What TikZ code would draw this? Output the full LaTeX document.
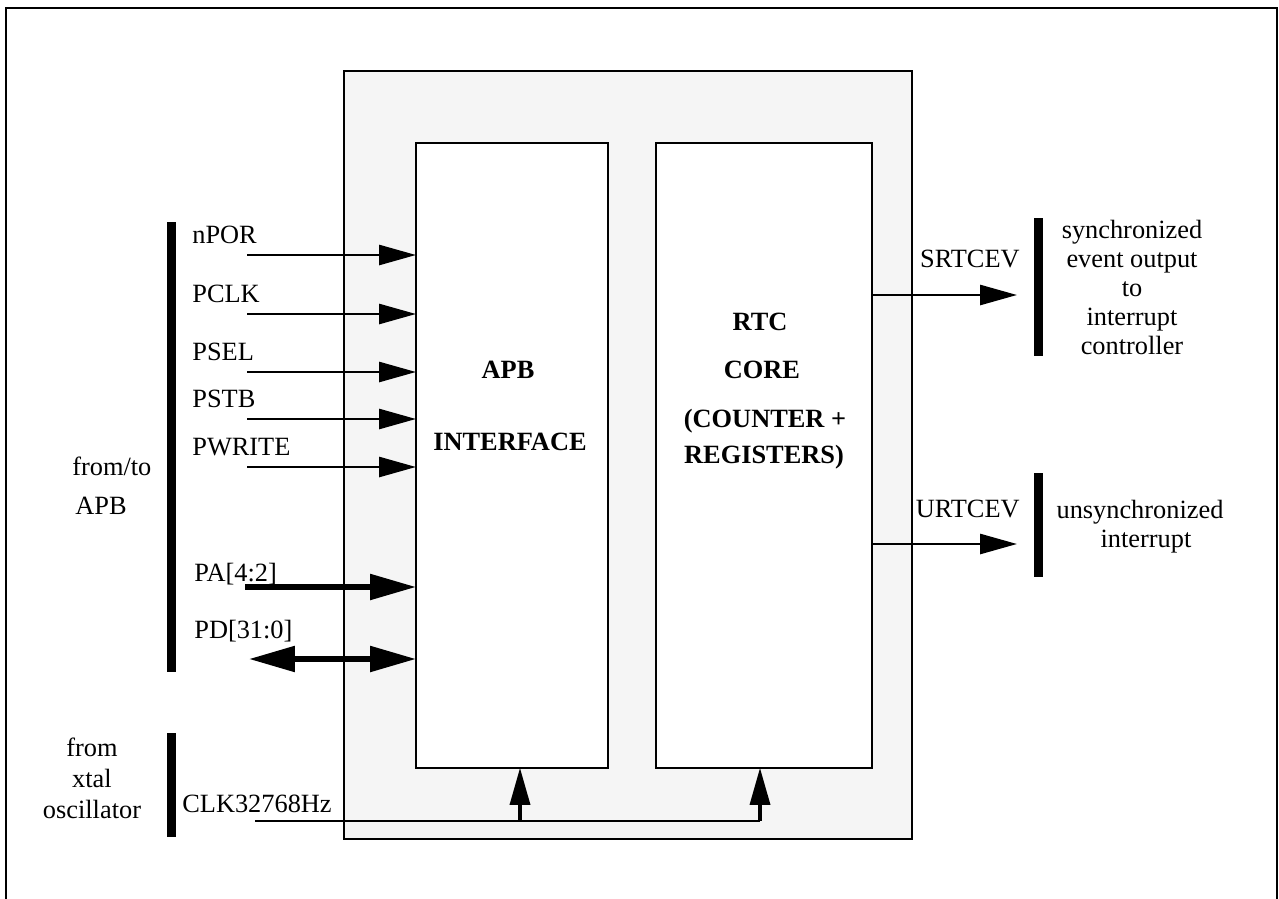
\documentclass[tikz,border=0pt]{standalone}
\usepackage{fontspec}
\setmainfont{Liberation Serif}
\usetikzlibrary{arrows.meta, positioning}

\begin{document}
\begin{tikzpicture}[x=0.02cm, y=-0.02cm,
    lbl/.style={inner sep=0pt, font=\fontsize{15}{18}\selectfont},
    title/.style={lbl, font=\fontsize{15}{18}\selectfont\bfseries},
    blk/.style={draw, line width=0.05cm, inner sep=0pt, outer sep=0pt, anchor=north west},
    sig/.style={line width=0.055cm, -{Triangle[length=0.74cm, width=0.4cm]}},
    bus/.style={line width=0.11cm, -{Triangle[length=0.92cm, width=0.5cm]}},
    bar/.style={line width=0.18cm}]
    \useasboundingbox (0,0) rectangle (1279,899);

    % Frame
    \draw[line width=0.05cm] (6,899) |- (1277,8) -- (1277,899);

    % RTC block and its two parts
    \node[blk, fill=black!4, minimum width=11.36cm, minimum height=15.36cm] (rtcblk) at (344,71) {};
    \node[blk, fill=white, minimum width=3.84cm, minimum height=12.5cm] (apb) at (416,143) {};
    \node[blk, fill=white, minimum width=4.32cm, minimum height=12.5cm] (rtc) at (656,143) {};

    \node[title, anchor=base] (apb1) at (508,378) {APB};
    \node[title, anchor=base] (apb2) at (510,450) {INTERFACE};
    \node[title, anchor=base] (rtc1) at (760,330) {RTC};
    \node[title, anchor=base] (rtc2) at (762,378) {CORE};
    \node[title, anchor=base] (rtc3) at (765,427) {(COUNTER +};
    \node[title, anchor=base] (rtc4) at (764,463) {REGISTERS)};

    % APB side
    \draw[bar] (171.5,222) -- (171.5,672);
    \node[lbl, anchor=base west] (fromto) at (72,475) {from/to};
    \node[lbl, anchor=base west] (apbname) at (75,514) {APB};
    \foreach \nm/\yy in {nPOR/255, PCLK/314, PSEL/372, PSTB/419, PWRITE/467} {
        \node[lbl, anchor=base west] (\nm) at (192,\yy-12) {\nm};
        \coordinate (\nm-in) at (247,\yy);
        \draw[sig] (\nm-in) -- (\nm-in -| apb.west);
    }
    \node[lbl, anchor=base west] (pa) at (194,581) {PA[4:2]};
    \coordinate (pa-in) at (245,587);
    \draw[bus] (pa-in) -- (pa-in -| apb.west);
    \node[lbl, anchor=base west] (pd) at (194,638) {PD[31:0]};
    \coordinate (pd-in) at (249,659);
    \draw[bus, {Triangle[length=0.92cm, width=0.5cm]}-{Triangle[length=0.92cm, width=0.5cm]}] (pd-in) -- (pd-in -| apb.west);

    % Clock from oscillator
    \draw[bar] (171.5,733) -- (171.5,837);
    \foreach \t/\yy in {from/756, xtal/787, oscillator/818}
        \node[lbl, anchor=base] (osc-\t) at (92,\yy) {\t};
    \node[lbl, anchor=base west] (clk) at (182,812) {CLK32768Hz};
    \coordinate (clk-in) at (255,821);
    \coordinate (clk-apb) at (520,821);
    \coordinate (clk-rtc) at (760,821);
    \draw[line width=0.05cm] (clk-in) -- (clk-rtc);
    \draw[sig, line width=0.07cm] (clk-apb) -- (clk-apb |- apb.south);
    \draw[sig, line width=0.07cm] (clk-rtc) -- (clk-rtc |- rtc.south);

    % Event outputs
    \coordinate (srtc-out) at (1017,295);
    \draw[sig] (srtc-out -| rtc.east) -- (srtc-out);
    \node[lbl, anchor=base east] (srtcev) at (1020,267) {SRTCEV};
    \draw[bar] (1038,218) -- (1038,356);
    \foreach \t [count=\i] in {synchronized, event output, to, interrupt, controller}
        \node[lbl, anchor=base] (sync\i) at (1132,209+29*\i) {\t};

    \coordinate (urtc-out) at (1017,544);
    \draw[sig] (urtc-out -| rtc.east) -- (urtc-out);
    \node[lbl, anchor=base east] (urtcev) at (1020,517) {URTCEV};
    \draw[bar] (1038,473) -- (1038,577);
    \node[lbl, anchor=base] (unsync1) at (1140,518) {unsynchronized};
    \node[lbl, anchor=base] (unsync2) at (1146,547) {interrupt};
\end{tikzpicture}
\end{document}
